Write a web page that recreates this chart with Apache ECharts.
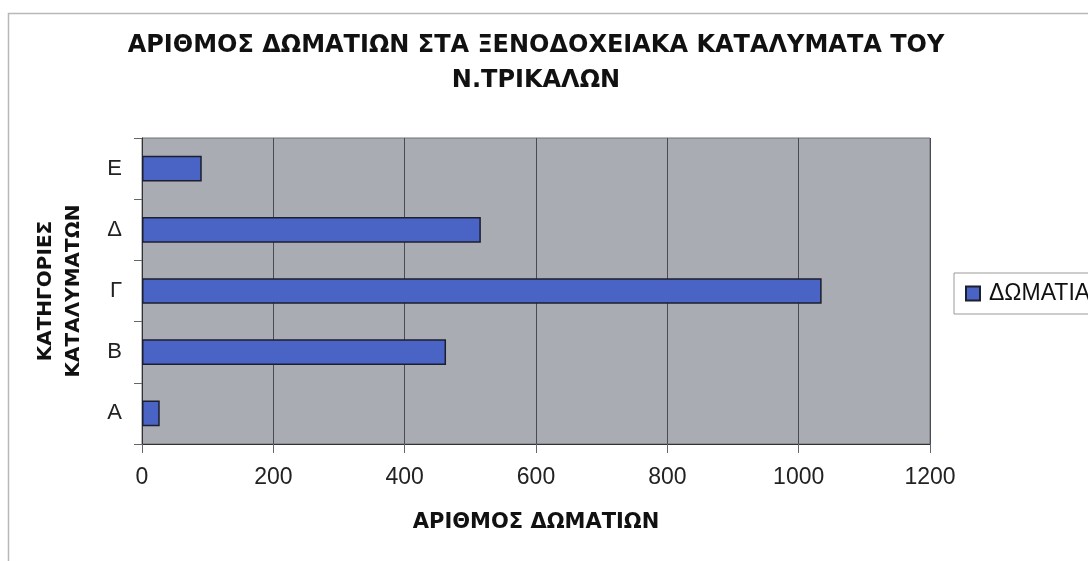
<!DOCTYPE html>
<html>
<head>
<meta charset="utf-8">
<script src="https://cdn.jsdelivr.net/npm/echarts@6/dist/echarts.min.js"></script>
<style>
  html, body { margin: 0; padding: 0; background: #fff; }
  #chart { width: 1088px; height: 561px; }
</style>
</head>
<body>
<div id="chart"></div>
<script>
// categories (bottom to top) and number of rooms
var categories = ['Α', 'Β', 'Γ', 'Δ', 'Ε'];
var rooms = [27, 463, 1035, 516, 91];
var xTicks = { min: 0, max: 1200, interval: 200 };

var font = '"Liberation Sans", Arial, sans-serif';
var boldFont = '"DejaVu Sans", Verdana, sans-serif';

var option = {
  backgroundColor: '#fff',
  animation: false,
  graphic: [{
    type: 'rect',
    shape: { x: 8.5, y: 13.5, width: 1200, height: 600 },
    style: { fill: 'none', stroke: '#b8b8b8', lineWidth: 1.5 },
    silent: true,
    z: -1
  }],
  title: {
    text: 'ΑΡΙΘΜΟΣ ΔΩΜΑΤΙΩΝ ΣΤΑ ΞΕΝΟΔΟΧΕΙΑΚΑ ΚΑΤΑΛΥΜΑΤΑ ΤΟΥ\nΝ.ΤΡΙΚΑΛΩΝ',
    left: 536,
    textAlign: 'center',
    top: 28,
    padding: 0,
    textStyle: {
      fontFamily: boldFont,
      fontWeight: 'bold',
      fontSize: 24,
      lineHeight: 35,
      color: '#111'
    }
  },
  legend: {
    data: [{ name: 'ΔΩΜΑΤΙΑ', icon: 'rect' }],
    left: 954,
    top: 273,
    orient: 'vertical',
    padding: [9, 12, 9, 11],
    itemWidth: 14,
    itemHeight: 14,
    itemGap: 0,
    borderColor: '#999',
    borderWidth: 1,
    textStyle: { fontFamily: font, fontSize: 23, color: '#111', padding: [0, 0, 0, 4] }
  },
  grid: {
    left: 142,
    right: 158,
    top: 138,
    bottom: 117,
    show: true,
    backgroundColor: '#a9acb3',
    borderColor: '#6f7176',
    borderWidth: 1
  },
  xAxis: {
    type: 'value',
    min: xTicks.min,
    max: xTicks.max,
    interval: xTicks.interval,
    name: 'ΑΡΙΘΜΟΣ ΔΩΜΑΤΙΩΝ',
    nameLocation: 'middle',
    nameGap: 68,
    nameTextStyle: { fontFamily: boldFont, fontWeight: 'bold', fontSize: 21, color: '#111' },
    axisLine: { show: true, lineStyle: { color: '#333', width: 1 } },
    axisTick: { show: true, length: 9, lineStyle: { color: '#666' } },
    axisLabel: {
      margin: 22,
      fontFamily: font,
      fontSize: 23,
      color: '#222',
      formatter: function (v) { return String(v); }
    },
    splitLine: { show: true, lineStyle: { color: '#4a4c52', width: 1 } }
  },
  yAxis: {
    type: 'category',
    data: categories,
    name: 'ΚΑΤΗΓΟΡΙΕΣ\nΚΑΤΑΛΥΜΑΤΩΝ',
    nameLocation: 'middle',
    nameRotate: 90,
    nameGap: 54,
    nameTextStyle: { fontFamily: boldFont, fontWeight: 'bold', fontSize: 20, lineHeight: 28, color: '#111' },
    axisLine: { show: true, lineStyle: { color: '#333', width: 1 } },
    axisTick: { show: true, length: 8, lineStyle: { color: '#666' } },
    axisLabel: { margin: 20, fontFamily: font, fontSize: 22, color: '#222' },
    splitLine: { show: false }
  },
  series: [{
    name: 'ΔΩΜΑΤΙΑ',
    type: 'bar',
    data: rooms,
    barWidth: '42%',
    itemStyle: {
      color: '#4a64c6',
      borderColor: '#1c1f2e',
      borderWidth: 1.5
    }
  }]
};

var chart = echarts.init(document.getElementById('chart'));
chart.setOption(option);
</script>
</body>
</html>
